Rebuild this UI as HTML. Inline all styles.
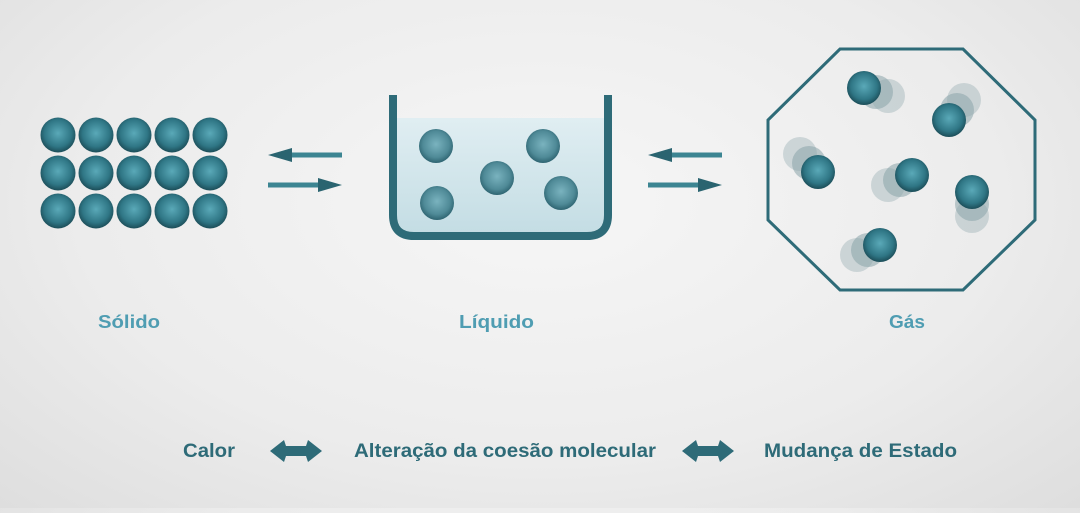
<!DOCTYPE html>
<html><head><meta charset="utf-8"><style>
html,body{margin:0;padding:0}
body{width:1080px;height:508px;overflow:hidden;background:radial-gradient(ellipse at 50% 40%,#f6f6f6 0%,#ececec 60%,#dedede 100%);font-family:"Liberation Sans",sans-serif}
</style></head><body>
<svg width="1080" height="508" viewBox="0 0 1080 508" xmlns="http://www.w3.org/2000/svg">
<defs>
<radialGradient id="b" cx="50%" cy="45%" r="55%">
<stop offset="0" stop-color="#5aa9b8"/><stop offset="0.7" stop-color="#2f7685"/><stop offset="1" stop-color="#1c4d58"/>
</radialGradient>
<radialGradient id="bl" cx="50%" cy="45%" r="55%">
<stop offset="0" stop-color="#7ab3bf"/><stop offset="0.7" stop-color="#4f8a97"/><stop offset="1" stop-color="#2e6471"/>
</radialGradient>
<linearGradient id="w" x1="0" y1="0" x2="0" y2="1">
<stop offset="0" stop-color="#e0eef2"/><stop offset="1" stop-color="#c4dde4"/>
</linearGradient>
<g id="ra"><rect x="0" y="-2.5" width="56" height="5" fill="#3c8592"/><polygon points="50,-7 74,0 50,7" fill="#2a6470"/></g>
<g id="la"><rect x="18" y="-2.5" width="56" height="5" fill="#3c8592"/><polygon points="24,-7 0,0 24,7" fill="#2a6470"/></g>
<g id="dbl"><polygon points="0,0 14,-11 16,-5 36,-5 38,-11 52,0 38,11 36,5 16,5 14,11" fill="#2e6b78"/></g>
</defs>
<g fill="url(#b)">
<circle cx="58" cy="135" r="17.5"/><circle cx="96" cy="135" r="17.5"/><circle cx="134" cy="135" r="17.5"/><circle cx="172" cy="135" r="17.5"/><circle cx="210" cy="135" r="17.5"/>
<circle cx="58" cy="173" r="17.5"/><circle cx="96" cy="173" r="17.5"/><circle cx="134" cy="173" r="17.5"/><circle cx="172" cy="173" r="17.5"/><circle cx="210" cy="173" r="17.5"/>
<circle cx="58" cy="211" r="17.5"/><circle cx="96" cy="211" r="17.5"/><circle cx="134" cy="211" r="17.5"/><circle cx="172" cy="211" r="17.5"/><circle cx="210" cy="211" r="17.5"/>
</g>
<use href="#la" x="268" y="155"/><use href="#ra" x="268" y="185"/>
<use href="#la" x="648" y="155"/><use href="#ra" x="648" y="185"/>
<path d="M397,118 L604,118 L604,215 Q604,232 587,232 L414,232 Q397,232 397,215 Z" fill="url(#w)"/>
<g fill="url(#bl)">
<circle cx="436" cy="146" r="17"/><circle cx="543" cy="146" r="17"/><circle cx="497" cy="178" r="17"/><circle cx="437" cy="203" r="17"/><circle cx="561" cy="193" r="17"/>
</g>
<path d="M393,95 L393,215 Q393,236 414,236 L587,236 Q608,236 608,215 L608,95" fill="none" stroke="#2e6b78" stroke-width="8"/>
<polygon points="840,49 963,49 1035,120 1035,220 963,290 840,290 768,220 768,120" fill="none" stroke="#2e6b78" stroke-width="3"/>
<g fill="#8aa4aa">
<circle cx="888" cy="96" r="17" opacity="0.35"/><circle cx="876" cy="92" r="17" opacity="0.55"/>
<circle cx="964" cy="100" r="17" opacity="0.35"/><circle cx="957" cy="110" r="17" opacity="0.55"/>
<circle cx="800" cy="154" r="17" opacity="0.35"/><circle cx="809" cy="163" r="17" opacity="0.55"/>
<circle cx="888" cy="185" r="17" opacity="0.35"/><circle cx="900" cy="180" r="17" opacity="0.55"/>
<circle cx="972" cy="216" r="17" opacity="0.35"/><circle cx="972" cy="204" r="17" opacity="0.55"/>
<circle cx="857" cy="255" r="17" opacity="0.35"/><circle cx="868" cy="250" r="17" opacity="0.55"/>
</g>
<g fill="url(#b)">
<circle cx="864" cy="88" r="17"/><circle cx="949" cy="120" r="17"/><circle cx="818" cy="172" r="17"/><circle cx="912" cy="175" r="17"/><circle cx="972" cy="192" r="17"/><circle cx="880" cy="245" r="17"/>
</g>
<g font-size="18" font-weight="bold" fill="#4f9db2">
<text x="98" y="328" textLength="62" lengthAdjust="spacingAndGlyphs">Sólido</text>
<text x="459" y="328" textLength="75" lengthAdjust="spacingAndGlyphs">Líquido</text>
<text x="889" y="328" textLength="36" lengthAdjust="spacingAndGlyphs">Gás</text>
</g>
<g font-size="19" font-weight="bold" fill="#2e6b78">
<text x="183" y="457" textLength="52" lengthAdjust="spacingAndGlyphs">Calor</text>
<text x="354" y="457" textLength="302" lengthAdjust="spacingAndGlyphs">Alteração da coesão molecular</text>
<text x="764" y="457" textLength="193" lengthAdjust="spacingAndGlyphs">Mudança de Estado</text>
</g>
<use href="#dbl" x="270" y="451"/><use href="#dbl" x="682" y="451"/>
</svg>
</body></html>
